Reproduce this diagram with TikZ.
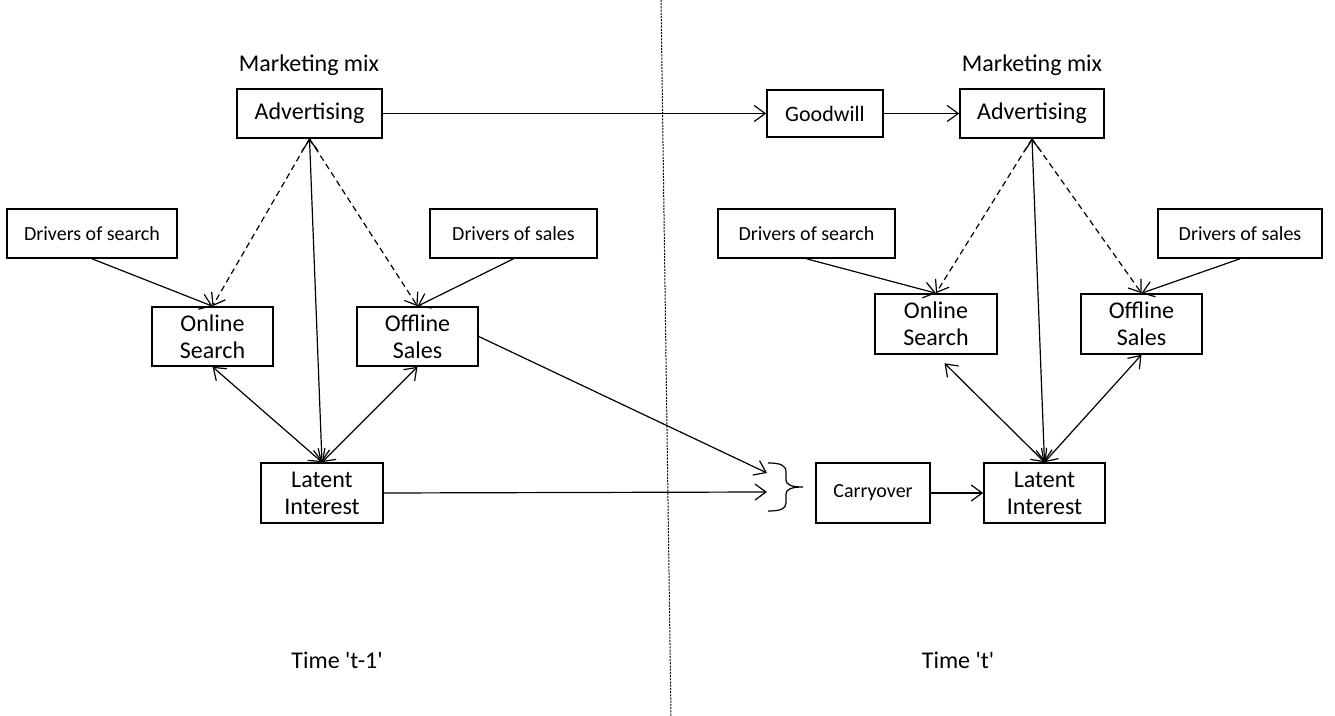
\documentclass[tikz,border=0pt]{standalone}
\usepackage{fontspec}
\setmainfont{Carlito}
\usetikzlibrary{arrows.meta}

\tikzset{
  box/.style={draw,line width=0.8pt,align=center,inner sep=1pt,
    font=\fontsize{12}{13.5}\selectfont},
  smallbox/.style={box,font=\fontsize{10}{12}\selectfont},
  caption/.style={font=\fontsize{12}{13.5}\selectfont},
  tip/.tip={Straight Barb[length=5.5pt,width=8pt,line width=0.6pt]},
  link/.style={line width=0.6pt,-tip},
  twoway/.style={line width=0.6pt,tip-tip},
  hint/.style={link,dash pattern=on 3pt off 2pt},
}

\begin{document}
\begin{tikzpicture}[x=0.5pt,y=-0.5pt]
\useasboundingbox (0,0) rectangle (1335,716);

% period t-1
\node[caption] (mix1) at (309,65) {Marketing mix};
\node[box,minimum width=72.5pt,minimum height=24.5pt] (adv1) at (309.5,113.5) {Advertising};
\node[smallbox,minimum width=85pt,minimum height=24.5pt] (drv1) at (92,233.5) {Drivers of search};
\node[smallbox,minimum width=83.5pt,minimum height=24.5pt] (drs1) at (513.5,233.5) {Drivers of sales};
\node[box,minimum width=60.5pt,minimum height=29.5pt] (search1) at (212.5,336.5) {Online\\Search};
\node[box,minimum width=60.5pt,minimum height=29.5pt] (sales1) at (417.5,336.5) {Offline\\Sales};
\node[box,minimum width=61pt,minimum height=30pt] (latent1) at (322,493) {Latent\\Interest};
\node[caption] (time1) at (337,660) {Time \textquotesingle t-1\textquotesingle};

% period t
\node[caption] (mix2) at (1032,65) {Marketing mix};
\node[smallbox,font=\fontsize{11}{13}\selectfont,minimum width=58pt,minimum height=23.5pt] (goodwill) at (825,113.5) {Goodwill};
\node[box,minimum width=72pt,minimum height=24.5pt] (adv2) at (1032,113.5) {Advertising};
\node[smallbox,minimum width=88.5pt,minimum height=24.5pt] (drv2) at (806.5,233.5) {Drivers of search};
\node[smallbox,minimum width=82pt,minimum height=24.5pt] (drs2) at (1240,233.5) {Drivers of sales};
\node[box,minimum width=61pt,minimum height=30pt] (search2) at (936,324) {Online\\Search};
\node[box,minimum width=60.5pt,minimum height=30pt] (sales2) at (1141.5,324) {Offline\\Sales};
\node[smallbox,minimum width=57pt,minimum height=30pt] (carry) at (873,493) {Carryover};
\node[box,minimum width=60.5pt,minimum height=30pt] (latent2) at (1044.5,493) {Latent\\Interest};
\node[caption] (time2) at (958,660) {Time \textquotesingle t\textquotesingle};

% divider between the two periods
\draw[line width=0.5pt,dash pattern=on 1pt off 0.6pt] (661,0) -- (671,716);

% brace collecting the carryover inputs
\coordinate (in1) at (767,473);
\coordinate (in2) at (767,492);
\draw[line width=0.6pt] (768,463) .. controls (780,463) and (786,465) .. (786,472)
  -- (786,480) .. controls (786,485) and (792,487) .. (803,487)
  .. controls (792,487) and (786,489) .. (786,494)
  -- (786,503) .. controls (786,509) and (780,511) .. (768,511);

% t-1 links
\draw[hint] (adv1.south) -- (search1.north);
\draw[hint] (adv1.south) -- (sales1.north);
\draw[twoway] (latent1.north) -- (adv1.south);
\draw[link] (drv1.south) -- (search1.north);
\draw[link] (drs1.south) -- (sales1.north);
\draw[twoway] (search1.south) -- (latent1.north);
\draw[twoway] (sales1.south) -- (latent1.north);

% across periods
\draw[link] (adv1.east) -- (goodwill.west);
\draw[link] (sales1.east) -- (in1);
\draw[link] (latent1.east) -- (in2);

% t links
\draw[link] (goodwill.east) -- (adv2.west);
\draw[hint] (adv2.south) -- (search2.north);
\draw[hint] (adv2.south) -- (sales2.north);
\draw[twoway] (latent2.north) -- (adv2.south);
\draw[link] (drv2.south) -- (search2.north);
\draw[link] (drs2.south) -- (sales2.north);
\draw[twoway,shorten >=6pt] (latent2.north) -- (search2.south);
\draw[twoway] (latent2.north) -- (sales2.south);
\draw[link] (carry.east) -- (latent2.west);
\end{tikzpicture}
\end{document}
